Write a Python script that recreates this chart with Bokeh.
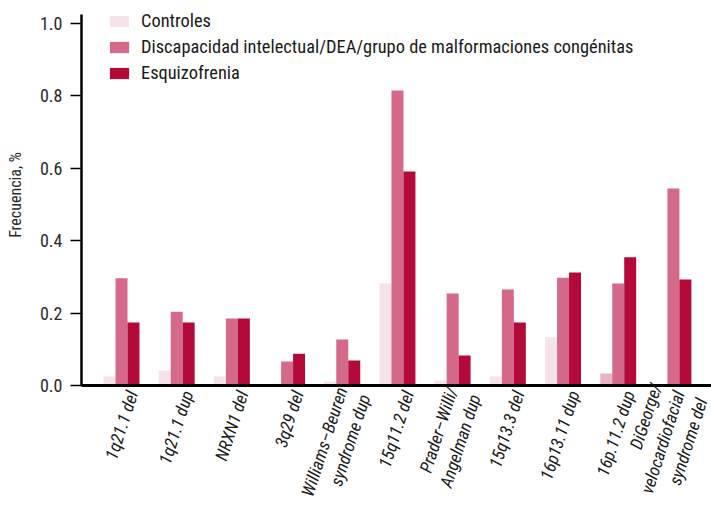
from bokeh.plotting import figure
from bokeh.models import ColumnDataSource, Range1d, FixedTicker, Legend, LegendItem
from bokeh.embed import file_html
from bokeh.resources import INLINE

categories = ["1q21.1 del", "1q21.1 dup", "NRXN1 del", "3q29 del",
              "Williams\u2013Beuren\nsyndrome dup", "15q11.2 del",
              "Prader\u2013Willi/\nAngelman dup", "15q13.3 del", "16p13.11 dup",
              "16p.11.2 dup", "DiGeorge/\nvelocardiofacial\nsyndrome del"]
controles = [0.025, 0.041, 0.025, 0.005, 0.011, 0.282, 0.014, 0.025, 0.133, 0.033, 0.0]
discapacidad = [0.296, 0.204, 0.185, 0.066, 0.127, 0.815, 0.254, 0.265, 0.298, 0.282, 0.544]
esquizofrenia = [0.174, 0.174, 0.185, 0.088, 0.069, 0.591, 0.083, 0.174, 0.312, 0.354, 0.293]
series_names = ["Controles",
                "Discapacidad intelectual/DEA/grupo de malformaciones congénitas",
                "Esquizofrenia"]
y_ticks = [0.0, 0.2, 0.4, 0.6, 0.8, 1.0]

# styles
c_ctrl = "#f5e3e9"
c_ctrl_dark = "#e8b4c1"
c_dea = "#d4698a"
c_esq = "#b30a3a"
ctrl_colors = [c_ctrl] * len(categories)
ctrl_colors[9] = c_ctrl_dark

FONT = "Roboto Condensed"
bw = 0.217
label_shift = 0.2
xs = list(range(len(categories)))

src = ColumnDataSource(dict(
    x=xs,
    x0=[x - bw for x in xs],
    x2=[x + bw for x in xs],
    ctrl=controles, dea=discapacidad, esq=esquizofrenia, cc=ctrl_colors,
))

p = figure(width=711, height=516, output_backend="svg", toolbar_location=None,
           x_range=Range1d(-0.725, 10.69), y_range=Range1d(0, 1.0525),
           min_border_left=81, min_border_right=0, min_border_top=4,
           min_border_bottom=131)
p.outline_line_color = None
p.xgrid.grid_line_color = None
p.ygrid.grid_line_color = None

r1 = p.vbar(x="x0", top="ctrl", width=bw, source=src, fill_color="cc", line_color=None)
r2 = p.vbar(x="x", top="dea", width=bw, source=src, fill_color=c_dea, line_color=None)
r3 = p.vbar(x="x2", top="esq", width=bw, source=src, fill_color=c_esq, line_color=None)

# y axis
ya = p.yaxis[0]
ya.bounds = (0, 1.025)
ya.ticker = FixedTicker(ticks=y_ticks)
ya.major_label_overrides = {t: f"{t:.1f}" for t in y_ticks}
ya.minor_tick_line_color = None
ya.major_tick_out = 11
ya.major_tick_in = 0
ya.major_tick_line_width = 1.5
ya.axis_line_width = 2.5
ya.axis_line_color = "black"
ya.major_tick_line_color = "black"
ya.major_label_text_font = FONT
ya.major_label_text_font_size = "18px"
ya.major_label_text_color = "#2a2a2a"
ya.major_label_standoff = 8
ya.axis_label = "Frecuencia, %"
ya.axis_label_text_font = FONT
ya.axis_label_text_font_size = "16px"
ya.axis_label_text_font_style = "normal"
ya.axis_label_text_color = "#2a2a2a"
ya.axis_label_standoff = 12

# x axis
xa = p.xaxis[0]
tick_pos = [x + label_shift for x in xs]
xa.ticker = FixedTicker(ticks=tick_pos)
xa.major_label_overrides = {t: c for t, c in zip(tick_pos, categories)}
xa.major_label_orientation = 1.26
xa.major_tick_line_color = None
xa.minor_tick_line_color = None
xa.axis_line_width = 3
xa.axis_line_color = "black"
xa.major_label_text_font = FONT
xa.major_label_text_font_size = "17.5px"
xa.major_label_text_font_style = "italic"
xa.major_label_text_color = "#1a1a1a"
xa.major_label_text_align = "right"
xa.major_label_standoff = 0

legend = Legend(items=[LegendItem(label=series_names[0], renderers=[r1], index=0),
                       LegendItem(label=series_names[1], renderers=[r2]),
                       LegendItem(label=series_names[2], renderers=[r3])],
                location=(26, 302))
legend.border_line_color = None
legend.background_fill_alpha = 0
legend.label_text_font = FONT
legend.label_text_font_size = "18.4px"
legend.label_text_color = "#1a1a1a"
legend.glyph_width = 24
legend.glyph_height = 14
legend.label_height = 20
legend.spacing = 5
legend.padding = 0
legend.margin = 0
legend.label_standoff = 10
p.add_layout(legend, "center")

open("out.html", "w").write(file_html(p, INLINE))
